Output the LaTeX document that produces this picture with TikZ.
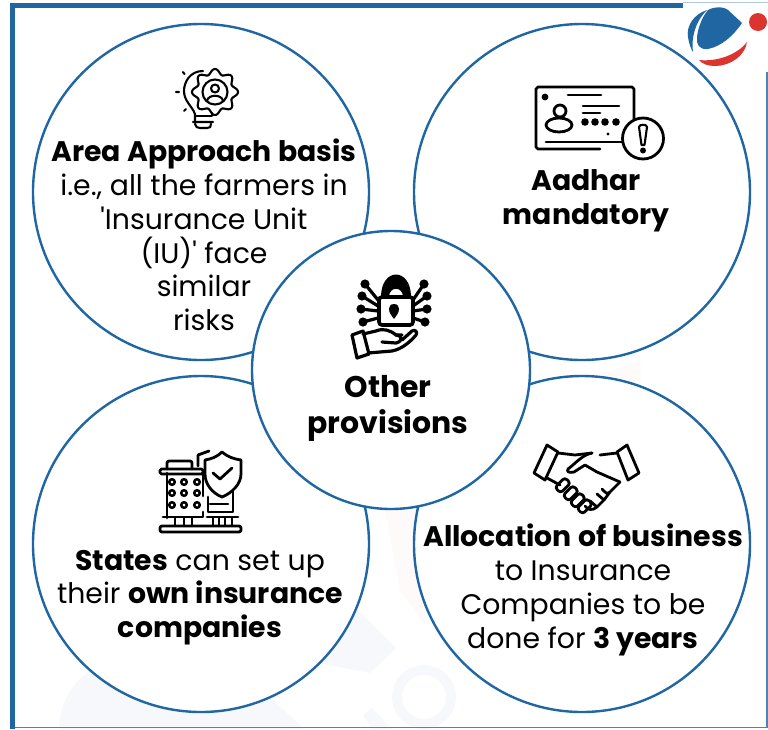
\documentclass[tikz,border=0pt]{standalone}
\usepackage{fontspec}
\setmainfont{Poppins}
\newfontfamily\straightfont{Poppins}
\definecolor{ringblue}{HTML}{1F66A3}
\definecolor{logored}{HTML}{DC352F}
\definecolor{markblue}{HTML}{F6F8FB}
\definecolor{markred}{HTML}{FEFAF9}
\tikzset{
  ringnode/.style={circle,draw=ringblue,line width=2.4pt,fill=white,minimum size=#1,inner sep=0pt},
  labelnode/.style={align=center,font=\fontsize{28.3}{33.8}\selectfont,inner sep=0pt},
  iconline/.style={draw=black,line width=2.8pt,line cap=round,line join=round},
  thinline/.style={draw=black,line width=2.1pt,line cap=round,line join=round},
}
\begin{document}
\begin{tikzpicture}[x=1pt,y=-1pt]
  \useasboundingbox (0,0) rectangle (768,729);
  % watermark
  \fill[markblue] (358,610) -- (396,648) -- (370,673) -- (318,663) -- cycle;
  \fill[markblue] (59,729) arc[start angle=180,end angle=300,radius=70] -- (270,697) -- (304,729) -- cycle;
  \fill[markblue] (363,715) -- (372,708) -- (392,729) -- (372,729) -- cycle;
  \draw[markblue,line width=10pt] (424,697) circle (27);
  \fill[markred] (600,375) -- (640,360) -- (640,420) -- cycle;
  \fill[markred] (385,510) -- (430,510) -- (425,625) -- (400,590) -- cycle;
  % frame
  \draw[ringblue!35,line width=1pt] (683,2.5) -- (768,2.5);
  \fill[ringblue] (10,3) rectangle (683,8);
  \fill[ringblue] (10,3) rectangle (15,729);
  \draw[ringblue!80,line width=1.2pt] (15,727.5) -- (767,727.5) -- (767,72);
  % logo
  \fill[ringblue] (708,10) .. controls (713,7) and (723,6) .. (728,10) -- (742,23)
    .. controls (733,36) and (722,46) .. (708,49) .. controls (699,50) and (696,44) .. (697,37)
    .. controls (698,28) and (702,17) .. (708,10) -- cycle;
  \fill[ringblue] (707,10) .. controls (694,14) and (686,26) .. (688,37) .. controls (689,44) and (691,49) .. (693,52)
    .. controls (691,38) and (695,22) .. (707,10) -- cycle;
  \fill[logored] (699,60) .. controls (718,62) and (738,54) .. (747,42)
    .. controls (745,56) and (730,66) .. (715,66) .. controls (708,66) and (702,64) .. (699,60) -- cycle;
  \fill[logored] (758,22) circle (9);
  % rings
  \node (arearing) [ringnode=336pt] at (201,192) {};
  \node (aadharring) [ringnode=336pt] at (582,192) {};
  \node (statesring) [ringnode=336pt] at (201,544) {};
  \node (businessring) [ringnode=336pt] at (582,544) {};
  \node (otherring) [ringnode=278pt] at (391,370) {};
  % texts
  \node (arealabel) [labelnode] at (204,235) {\textbf{Area Approach basis}\\i.e., all the farmers in\\{\straightfont'}Insurance Unit\\(IU){\straightfont'} face\\similar\\risks};
  \node (aadharlabel) [labelnode] at (586,200.5) {\textbf{Aadhar}\\\textbf{mandatory}};
  \node (otherlabel) [labelnode,font=\fontsize{29.9}{36}\selectfont] at (388,408.5) {\textbf{Other}\\\textbf{provisions}};
  \node (stateslabel) [labelnode] at (200,597.5) {\textbf{States} can set up\\their \textbf{own insurance}\\\textbf{companies}};
  \node (businesslabel) [labelnode] at (583,590) {\textbf{Allocation of business}\\to Insurance\\Companies to be\\done for \textbf{3 years}};
  % bulb icon
  \draw[thinline] (203,71) .. controls (190,71) and (184,82) .. (184,91) .. controls (184,101) and (192,106) .. (195,114) -- (195,122);
  \draw[thinline] plot[domain=0:360,samples=145,smooth] ({215+(20.5+2.5*cos(8*\x))*cos(\x)},{92+(20.5+2.5*cos(8*\x))*sin(\x)});
  \draw[thinline] (215,92) circle (12.5);
  \draw[thinline] (215,88.5) circle (4);
  \draw[thinline] (207,101) .. controls (208,94) and (222,94) .. (223,101);
  \draw[thinline] (195,116) -- (212,116) -- (212,113);
  \draw[thinline] (193,122) -- (213,122) (195,124) .. controls (195,127) and (198,128) .. (200,128) -- (207,128) .. controls (210,128) and (211,127) .. (211,124);
  \draw[thinline] (183,72) -- (184.5,74) (176,92) -- (179,92) (184,111) -- (186,109);
  % card icon
  \draw[iconline] (600,149) -- (538,149) -- (536,147) -- (536,89) -- (538,87) -- (632,87) -- (634,89) -- (634,125);
  \fill (545,97) circle (3.4);
  \draw[iconline] (568,95) -- (601,95) (583,106) -- (619,106) (583,113) -- (600,113) (546,142) -- (622,142);
  \foreach \dotx in {585,595,605,616} {\fill (\dotx,122) circle (3.8);}
  \fill (608,134) circle (1.6);
  \draw[iconline] (560,111) circle (6);
  \draw[iconline] (559,125) ellipse (13 and 7);
  \draw[iconline,fill=white] (643,138.5) circle (20.5);
  \draw[thinline] (639,127) .. controls (639,124) and (647,124) .. (647,127) -- (644.5,145) -- (641.5,145) -- cycle;
  \fill (643,150.5) circle (3);
  % lock icon
  \foreach \legy/\legin/\legx/\legout in {284/300/365/424,296/306/362/427,309/311/361/427,322/318/363/425} {
    \draw[iconline,line width=3.2pt] (\legx,\legy) -- (378,\legin);
    \draw[iconline,line width=3.2pt] (\legout,\legy) -- (413,\legin);
    \fill (\legx,\legy) circle (4.6);
    \fill (\legout,\legy) circle (4.6);
  }
  \draw[black,line width=3.6pt,fill=white,rounded corners=3pt] (379,297) rectangle (413,325);
  \fill[even odd rule] (381,297) .. controls (381,267) and (411,267) .. (411,297) -- cycle
    (389,297) .. controls (389,286) and (403,286) .. (403,297) -- cycle;
  \fill (394,304) .. controls (390,304) and (389,307) .. (389,309) .. controls (389,313) and (392,316) .. (394,319)
    .. controls (396,316) and (399,313) .. (399,309) .. controls (399,307) and (398,304) .. (394,304) -- cycle;
  \draw[iconline,line width=3.2pt] (363,334) -- (376,331) .. controls (383,328) and (390,330) .. (396,335) -- (402,335);
  \draw[iconline,line width=3.2pt] (396,335) .. controls (403,336) and (403,341) .. (396,343) -- (382,342);
  \draw[iconline,line width=3.2pt] (402,340) -- (412,331) .. controls (415,329) and (418,332) .. (416,335) .. controls (410,342) and (402,349) .. (392,351) -- (368,353);
  \draw[iconline,line width=3.2pt] (352,335) -- (363,331) -- (369,354) -- (357,358) -- cycle;
  % building icon
  \draw[iconline] (167,473) -- (167,518) (203,473) -- (203,496);
  \draw[iconline,rounded corners=1.5pt] (160,474) -- (160,469) -- (203,469) -- (203,474) -- cycle;
  \draw[iconline,rounded corners=2pt] (167,469) -- (167,461) -- (192,461) -- (192,469);
  \foreach \winx in {172,184,197} {\foreach \winy in {482,493,505} {\draw[thinline,line width=2.5pt] (\winx,\winy) circle (2.8);}}
  \draw[iconline] (198,466) -- (198,455) -- (209,451);
  \draw[iconline,fill=white] (222,452) .. controls (228,457) and (234,459) .. (241,460) -- (241,474)
    .. controls (241,484) and (232,493) .. (222,497) .. controls (212,493) and (205,484) .. (205,474) -- (205,460)
    .. controls (211,459) and (217,457) .. (222,452) -- cycle;
  \draw[iconline] (213,473) -- (220,479) -- (232,468);
  \draw[iconline] (208,497) -- (208,512) -- (233,512) -- (233,490) (210,504) -- (228,504);
  \draw[iconline] (163,517) -- (203,517) -- (203,512) (207,517) -- (238,517);
  \foreach \pilx in {175,184,192,213,219,225,232} {\draw[thinline] (\pilx,518) -- (\pilx,526);}
  \draw[iconline,rounded corners=2pt] (160,526) rectangle (241,532);
  % handshake icon
  \draw[iconline] (547,445) -- (558,452) -- (545,480) -- (534,473) -- cycle;
  \draw[iconline] (627,445) -- (617,452) -- (628,480) -- (639,473) -- cycle;
  \draw[iconline] (558,453) -- (575,455) -- (592,453) (600,455) -- (617,453);
  \draw[iconline] (592,453) .. controls (582,455) and (576,463) .. (568,469) .. controls (566,472) and (570,473) .. (574,472) -- (585,465) -- (597,472) -- (620,482);
  \draw[iconline] (620,482) -- (610,492) .. controls (607,495) and (605,492) .. (602,489)
    (610,492) -- (604,500) -- (597,494) (604,500) -- (597,507) -- (590,501) (597,507) .. controls (592,511) and (588,510) .. (585,506);
  \draw[iconline] (547,478) -- (560,485);
  \foreach \fingx/\fingy in {562/486,570/494,577/501,584/507} {
    \draw[iconline,rotate around={-45:(\fingx,\fingy)},rounded corners=3pt] (\fingx-4,\fingy-8) rectangle (\fingx+4,\fingy+6);
  }
\end{tikzpicture}
\end{document}
